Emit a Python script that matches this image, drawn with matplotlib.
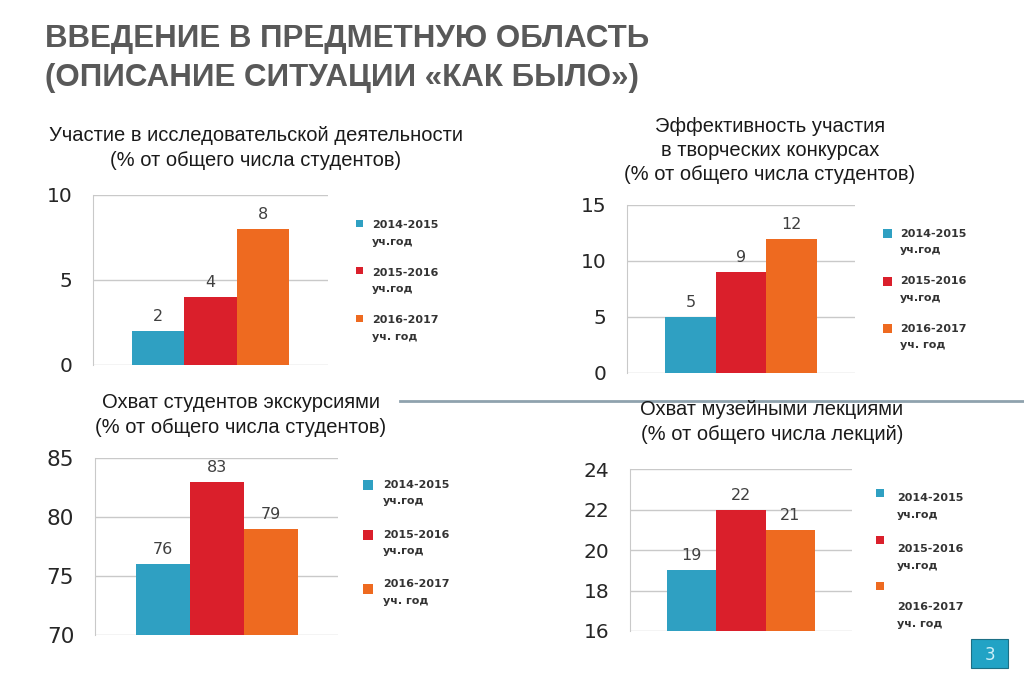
import matplotlib
matplotlib.use("Agg")
import matplotlib.pyplot as plt
from matplotlib.patches import Rectangle
from matplotlib.lines import Line2D

W, H = 1024, 681

# ---- data ----
title_lines = ["ВВЕДЕНИЕ В ПРЕДМЕТНУЮ ОБЛАСТЬ", "(ОПИСАНИЕ СИТУАЦИИ «КАК БЫЛО»)"]
series = ["2014-2015\nуч.год", "2015-2016\nуч.год", "2016-2017\nуч. год"]
colors = ["#2fa0c2", "#da1f2b", "#ee6a20"]

chart_titles = [
    "Участие в исследовательской деятельности\n(% от общего числа студентов)",
    "Эффективность участия\nв творческих конкурсах\n(% от общего числа студентов)",
    "Охват студентов экскурсиями\n(% от общего числа студентов)",
    "Охват музейными лекциями\n(% от общего числа лекций)",
]
research = [2, 4, 8]
contests = [5, 9, 12]
excursions = [76, 83, 79]
lectures = [19, 22, 21]
research_ticks = [0, 5, 10]
contests_ticks = [0, 5, 10, 15]
excursions_ticks = [70, 75, 80, 85]
lectures_ticks = [16, 18, 20, 22, 24]
slide_number = "3"

# ---- layout (pixels) ----
layouts = [
    dict(values=research, ticks=research_ticks, title=chart_titles[0],
         box=(93, 195, 328, 365), title_xy=(256, 148), tick_fs=14.5,
         sq_x=359, sq=7, txt_x=372, sq_y=[223, 270, 318], txt_y=[233.5, 281, 328.5]),
    dict(values=contests, ticks=contests_ticks, title=chart_titles[1],
         box=(627, 205, 855, 373), title_xy=(770, 150.5), tick_fs=14.5,
         sq_x=887, sq=9, txt_x=900, sq_y=[234, 281, 329], txt_y=[242, 289.5, 337]),
    dict(values=excursions, ticks=excursions_ticks, title=chart_titles[2],
         box=(95, 458, 338, 635), title_xy=(241, 415), tick_fs=15.5,
         sq_x=368, sq=10, txt_x=383, sq_y=[485, 535, 589], txt_y=[493, 543, 592.5]),
    dict(values=lectures, ticks=lectures_ticks, title=chart_titles[3],
         box=(630, 469, 852, 631), title_xy=(772, 422), tick_fs=14.5,
         sq_x=880, sq=8, txt_x=897, sq_y=[493, 540, 586], txt_y=[506.5, 557.5, 615.5]),
]


def px(x, y):
    return x / W, 1 - y / H


plt.rcParams['font.family'] = ['DejaVu Sans']
fig = plt.figure(figsize=(W / 100, H / 100), dpi=100)
fig.patch.set_facecolor('white')

# main title
for line, yc in zip(title_lines, [39, 78]):
    fig.text(*px(45, yc), line, ha='left', va='center', fontsize=22.5,
             fontweight='bold', color='#595959',
             family=['Liberation Sans', 'DejaVu Sans'])

grid_c = '#c9c9c9'
for L in layouts:
    x0, yt, x1, yb = L['box']
    ax = fig.add_axes([x0 / W, 1 - yb / H, (x1 - x0) / W, (yb - yt) / H])
    bars = ax.bar(range(len(L['values'])), L['values'], width=1.0, color=colors)
    ax.set_xlim(-1.25, 3.25)
    ax.set_ylim(L['ticks'][0], L['ticks'][-1])
    ax.set_yticks(L['ticks'])
    ax.set_xticks([])
    ax.yaxis.grid(True, color=grid_c, lw=1)
    ax.set_axisbelow(True)
    for s in ['top', 'right', 'bottom']:
        ax.spines[s].set_visible(False)
    ax.spines['left'].set_color(grid_c)
    ax.tick_params(axis='y', length=0, pad=15, labelsize=L['tick_fs'], labelcolor='#262626')
    ax.patch.set_alpha(0)
    ax.bar_label(bars, padding=5, fontsize=11.5, color='#404040')

    fig.text(*px(*L['title_xy']), L['title'], ha='center', va='center',
             fontsize=14.5, linespacing=1.35, color='#1a1a1a',
             family=['Liberation Sans', 'DejaVu Sans'])

    s = L['sq']
    for lab, c, sy, ty in zip(series, colors, L['sq_y'], L['txt_y']):
        fig.add_artist(Rectangle(px(L['sq_x'] - s / 2, sy + s / 2), s / W, s / H,
                                 transform=fig.transFigure, color=c, lw=0))
        fig.text(*px(L['txt_x'], ty), lab, ha='left', va='center', fontsize=8,
                 fontweight='bold', color='#333333', linespacing=1.85)

# separator line
fig.add_artist(Line2D([400 / W, 1.0], [1 - 401 / H] * 2, transform=fig.transFigure,
                      color='#8fa2ae', lw=2))

# slide number box
fig.add_artist(Rectangle(px(971, 668), 37 / W, 29 / H, transform=fig.transFigure,
                         facecolor='#22a3c5', edgecolor='#1c6f85', lw=0.8))
fig.text(*px(989.5, 655), slide_number, ha='center', va='center', fontsize=12,
         color='#d0f0f8')

fig.savefig('out.png', dpi=100)
